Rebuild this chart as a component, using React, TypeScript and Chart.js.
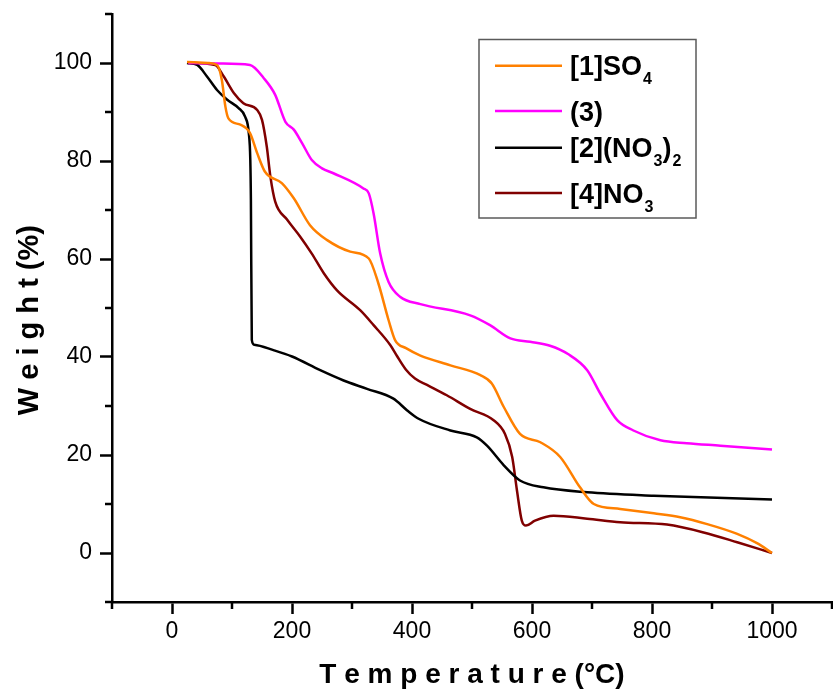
import React, { useEffect, useRef } from "react";
import { Chart, registerables } from "chart.js";

Chart.register(...registerables);

// ---- Data ----
const so4T = [25, 60, 75, 83, 89, 94, 114, 130, 142, 155, 183, 203, 230, 258, 297, 328, 344, 361, 372, 390, 414, 464, 514, 533, 553, 580, 614, 647, 680, 703, 747, 803, 847, 892, 942, 975, 1000];
const so4W = [100.2, 100, 99.6, 96.6, 91.1, 88.7, 87.4, 85.7, 81.6, 77.8, 75.5, 72.4, 66.9, 63.9, 61.5, 60.1, 55, 47.5, 43.4, 41.8, 40.3, 38.3, 36.3, 34.6, 29.8, 24.3, 22.6, 19.6, 13.4, 10, 9, 8.1, 7.3, 5.9, 3.9, 2, 0];

const c3T = [27, 80, 130, 153, 172, 189, 203, 217, 233, 250, 269, 319, 328, 336, 347, 361, 380, 414, 497, 530, 564, 597, 630, 660, 692, 714, 742, 769, 814, 858, 914, 1000];
const c3W = [100, 99.9, 99.6, 96.9, 93.5, 88, 86.4, 83.6, 80.2, 78.5, 77.5, 74.4, 73.4, 69.3, 61.1, 55.3, 52.3, 50.8, 48.5, 46.5, 43.8, 43.1, 42.3, 40.6, 37.3, 32.5, 27.1, 25, 23, 22.4, 21.9, 21.1];

const no32T = [25, 42, 58, 75, 92, 111, 122, 128, 130.5, 131.5, 133, 137, 169, 200, 247, 286, 325, 369, 392, 411, 464, 508, 525, 553, 580, 619, 692, 803, 1000];
const no32W = [100, 99.6, 97.3, 94.5, 92.5, 90.8, 89, 85.7, 80.2, 72, 43.5, 42.5, 41.4, 40.1, 37.3, 35.2, 33.5, 31.5, 29.1, 27.4, 25, 23.6, 21.9, 17.9, 14.8, 13.4, 12.4, 11.7, 10.9];

const no3T = [27, 72, 86, 103, 119, 142, 150, 158, 164, 172, 192, 214, 233, 253, 275, 314, 336, 364, 375, 390, 405, 425, 458, 497, 536, 555, 567, 575, 583, 590, 605, 636, 692, 747, 825, 886, 942, 1000];
const no3W = [100, 99.6, 97.3, 93.9, 91.8, 90.4, 88.4, 82.9, 76.8, 71.7, 68, 64.5, 61.1, 57.1, 53.6, 49.5, 46.5, 42.4, 40.2, 37.4, 35.6, 34.3, 32.2, 29.4, 27.1, 24.3, 19.6, 12.7, 6.6, 5.6, 6.6, 7.6, 7, 6.3, 5.8, 4.2, 2.2, 0];

const seriesLabels = ["[1]SO₄", "(3)", "[2](NO₃)₂", "[4]NO₃"];
const seriesColors = ["#FF8000", "#FF00FF", "#000000", "#800000"];

const xTickValues = [-100, 0, 100, 200, 300, 400, 500, 600, 700, 800, 900, 1000, 1100];
const xTickLabels = [0, 200, 400, 600, 800, 1000];
const yTickValues = [-10, 0, 10, 20, 30, 40, 50, 60, 70, 80, 90, 100, 110];
const yTickLabels = [0, 20, 40, 60, 80, 100];

const FONT = "'Liberation Sans', Arial, Helvetica, sans-serif";
const SUBS = "₀₁₂₃₄₅₆₇₈₉";

function zip(xs: number[], ys: number[]) {
  return xs.map((x, i) => ({ x, y: ys[i] }));
}

function splitLabel(label: string) {
  const segs: { text: string; sub: boolean }[] = [];
  for (const ch of label) {
    const idx = SUBS.indexOf(ch);
    const sub = idx >= 0;
    const c = sub ? String(idx) : ch;
    const last = segs[segs.length - 1];
    if (last && last.sub === sub) last.text += c;
    else segs.push({ text: c, sub });
  }
  return segs;
}

const minorTicksPlugin = {
  id: "minorTicks",
  afterDraw(chart: any) {
    const { ctx, chartArea, scales } = chart;
    const x = scales.x;
    const y = scales.y;
    ctx.save();
    ctx.strokeStyle = "#000";
    ctx.lineWidth = 2.5;
    ctx.beginPath();
    for (const v of xTickValues) {
      if (xTickLabels.includes(v)) continue;
      const px = x.getPixelForValue(v);
      ctx.moveTo(px, chartArea.bottom);
      ctx.lineTo(px, chartArea.bottom + 7);
    }
    for (const v of yTickValues) {
      if (yTickLabels.includes(v)) continue;
      const py = y.getPixelForValue(v);
      ctx.moveTo(chartArea.left - 7, py);
      ctx.lineTo(chartArea.left, py);
    }
    ctx.stroke();
    ctx.restore();
  },
};

const legendPlugin = {
  id: "customLegend",
  afterDraw(chart: any) {
    const { ctx } = chart;
    const boxX = 479, boxY = 39.5, boxW = 217, boxH = 178.5;
    ctx.save();
    ctx.fillStyle = "#fff";
    ctx.fillRect(boxX, boxY, boxW, boxH);
    ctx.strokeStyle = "#5a5a5a";
    ctx.lineWidth = 1.5;
    ctx.strokeRect(boxX, boxY, boxW, boxH);
    let top = 47.3;
    const baseH = 36.7;
    const subExtra = 8.6;
    chart.data.datasets.forEach((ds: any) => {
      const segs = splitLabel(ds.label);
      const hasSub = segs.some((s) => s.sub);
      const cy = top + baseH / 2;
      ctx.strokeStyle = ds.borderColor;
      ctx.lineWidth = 2.5;
      ctx.beginPath();
      ctx.moveTo(495, cy);
      ctx.lineTo(562, cy);
      ctx.stroke();
      let tx = 570;
      const base = cy + 9.7;
      ctx.fillStyle = "#000";
      ctx.textBaseline = "alphabetic";
      ctx.textAlign = "left";
      for (const s of segs) {
        ctx.font = s.sub ? `bold 16px ${FONT}` : `bold 27px ${FONT}`;
        const yy = s.sub ? base + 9 : base;
        if (s.sub) tx += 1;
        ctx.fillText(s.text, tx, yy);
        tx += ctx.measureText(s.text).width;
      }
      top += baseH + (hasSub ? subExtra : 0);
    });
    ctx.restore();
  },
};

export default function App() {
  const canvasRef = useRef<HTMLCanvasElement | null>(null);

  useEffect(() => {
    document.body.style.margin = "0";
    const canvas = canvasRef.current;
    if (!canvas) return;
    const datasets = [
      zip(so4T, so4W),
      zip(c3T, c3W),
      zip(no32T, no32W),
      zip(no3T, no3W),
    ].map((data, i) => ({
      label: seriesLabels[i],
      data,
      borderColor: seriesColors[i],
      backgroundColor: seriesColors[i],
      borderWidth: 2.5,
      pointRadius: 0,
      fill: false,
      cubicInterpolationMode: "monotone" as const,
    }));

    const chart = new Chart(canvas, {
      type: "line",
      data: { datasets },
      options: {
        animation: false,
        responsive: false,
        maintainAspectRatio: false,
        layout: { padding: { top: 14, right: 1, left: 0, bottom: 0 } },
        plugins: {
          legend: { display: false },
          tooltip: { enabled: false },
        },
        scales: {
          x: {
            type: "linear",
            min: -100,
            max: 1100,
            afterBuildTicks: (scale: any) => {
              scale.ticks = xTickValues.map((v) => ({ value: v }));
            },
            afterFit: (scale: any) => {
              scale.height = 96;
              scale.paddingLeft = 0;
              scale.paddingRight = 0;
            },
            grid: {
              display: true,
              drawOnChartArea: false,
              drawTicks: true,
              tickLength: 12,
              tickWidth: 2.5,
              tickColor: (c: any) =>
                c.tick && xTickLabels.includes(c.tick.value) ? "#000" : "rgba(0,0,0,0)",
            },
            border: { display: true, color: "#000", width: 2.5 },
            ticks: {
              autoSkip: false,
              maxRotation: 0,
              padding: 4,
              color: "#000",
              font: { family: FONT, size: 23 },
              callback: (v: any) => (xTickLabels.includes(Number(v)) ? String(v) : ""),
            },
            title: {
              display: true,
              text: "T e m p e r a t u r e (°C)",
              color: "#000",
              font: { family: FONT, size: 28, weight: "bold" },
              padding: { top: 0, bottom: 6 },
            },
          },
          y: {
            type: "linear",
            min: -10,
            max: 110,
            afterBuildTicks: (scale: any) => {
              scale.ticks = yTickValues.map((v) => ({ value: v }));
            },
            afterFit: (scale: any) => {
              scale.width = 112;
              scale.paddingTop = 0;
              scale.paddingBottom = 0;
            },
            grid: {
              display: true,
              drawOnChartArea: false,
              drawTicks: true,
              tickLength: 12,
              tickWidth: 2.5,
              tickColor: (c: any) =>
                c.tick && yTickLabels.includes(c.tick.value) ? "#000" : "rgba(0,0,0,0)",
            },
            border: { display: true, color: "#000", width: 2.5 },
            ticks: {
              autoSkip: false,
              padding: 8,
              color: "#000",
              font: { family: FONT, size: 23 },
              callback: (v: any) => (yTickLabels.includes(Number(v)) ? String(v) : ""),
            },
            title: {
              display: true,
              text: "W e i g h t (%)   ",
              color: "#000",
              font: { family: FONT, size: 29, weight: "bold" },
              padding: { top: 13, bottom: 0 },
            },
          },
        },
      },
      plugins: [minorTicksPlugin, legendPlugin],
    });

    return () => {
      chart.destroy();
    };
  }, []);

  return (
    <div style={{ width: 833, height: 698, background: "#fff" }}>
      <canvas ref={canvasRef} width={833} height={698} style={{ display: "block" }} />
    </div>
  );
}
